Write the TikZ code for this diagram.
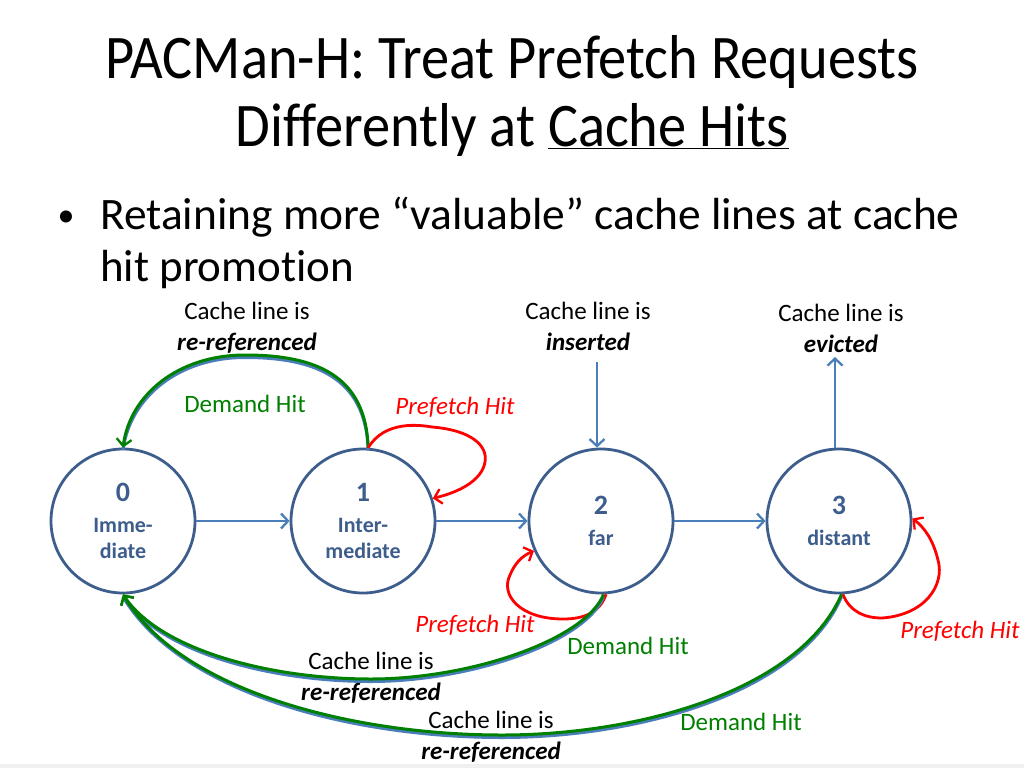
\documentclass[tikz,border=0pt]{standalone}
\usepackage{fontspec}
\setmainfont{Carlito}[Ligatures=NoCommon]
\usetikzlibrary{arrows.meta}
\definecolor{circ}{HTML}{3D5E8C}
\definecolor{arr}{HTML}{4A7EBB}
\definecolor{grn}{HTML}{008000}
\definecolor{rd}{HTML}{FF0000}
\newcommand{\bignum}[1]{{\fontsize{28}{30}\selectfont #1}}
\begin{document}
\begin{tikzpicture}[x=1pt,y=-1pt,
  state/.style={circle,draw=circ,line width=2.8pt,minimum size=144pt,inner sep=0pt,text=circ,font=\bfseries\fontsize{22}{26}\selectfont,align=center},
  lbl/.style={font=\fontsize{25}{31}\selectfont,align=center,inner sep=0pt},
  ilbl/.style={font=\fontsize{25}{31}\selectfont\itshape,align=center,inner sep=0pt},
  tip/.style={-{Straight Barb[length=7pt,width=15pt,line width=2.3pt]}},
  bluearr/.style={draw=arr,line width=2.6pt,tip},
  redarr/.style={draw=rd,line width=2.8pt,tip},
  grnarr/.style={draw=grn,line width=3pt,tip},
  blueunder/.style={draw=arr,line width=3pt,transform canvas={yshift=-2.5pt}},
]
\useasboundingbox (0,0) rectangle (1024,768);
\fill[white] (0,0) rectangle (1024,768);
\fill[gray!12] (0,764) rectangle (1024,768);

% title and bullet
\node[font=\fontsize{62}{68}\selectfont,align=center,inner sep=0pt] (title) at (512,96)
  {\scalebox{0.91}[1]{PACMan-H: Treat Prefetch Requests}\\\scalebox{0.91}[1]{Differently at \underline{Cache Hits}}};
\node[font=\fontsize{34}{40}\selectfont,inner sep=0pt] (bul) at (66,219) {•};
\node[font=\fontsize{45}{52}\selectfont,align=left,anchor=north west,inner sep=0pt] (btext) at (100,197)
  {\scalebox{1.01}[1]{Retaining more “valuable” cache lines at cache}\\hit promotion};

% states
\node[state] (c0) at (123,521) {\bignum{0}\\[5pt]Imme-\\diate};
\node[state] (c1) at (363,521) {\bignum{1}\\[5pt]Inter-\\mediate};
\node[state] (c2) at (601,521) {\bignum{2}\\[5pt]far};
\node[state] (c3) at (839,521) {\bignum{3}\\[5pt]distant};

% labels
\node[lbl] (ltop) at (247,328) {Cache line is\\\textbf{\textit{re-referenced}}};
\node[lbl,text=grn] (dh1) at (245,404) {Demand Hit};
\node[ilbl,text=rd] (ph1) at (455,407) {Prefetch Hit};
\node[lbl] (lins) at (588,326) {Cache line is\\\textbf{\textit{inserted}}};
\node[lbl] (lev) at (841,328) {Cache line is\\\textbf{\textit{evicted}}};
\node[ilbl,text=rd] (ph2) at (475,625) {Prefetch Hit};
\node[lbl,text=grn] (dh2) at (628,646) {Demand Hit};
\node[lbl] (lmid) at (371,678) {Cache line is\\\textbf{\textit{re-referenced}}};
\node[lbl] (lbot) at (491,737) {Cache line is\\\textbf{\textit{re-referenced}}};
\node[lbl,text=grn] (dh3) at (741,722) {Demand Hit};
\node[ilbl,text=rd] (ph3) at (960,631) {Prefetch Hit};

% coordinates for free ends
\coordinate (insTop) at (597,362);
\coordinate (evTop) at (835,357);

% horizontal transitions
\draw[bluearr] (c0) -- (c1);
\draw[bluearr] (c1) -- (c2);
\draw[bluearr] (c2) -- (c3);
\draw[bluearr] (insTop) -- (insTop |- c2.north);
\draw[bluearr] (evTop |- c3.north) -- (evTop);

% top demand hit arc
\draw[blueunder] (c1.86) .. controls (366,375) and (315,355) .. (245,355) .. controls (178,355) and (130,395) .. (c0.north);
\draw[grnarr] (c1.86) .. controls (366,375) and (315,355) .. (245,355) .. controls (178,355) and (130,395) .. (c0.north);

% red loops
\draw[redarr] (c1.86) .. controls (385,420) and (420,425) .. (432,427) .. controls (470,430) and (488,445) .. (485,462) .. controls (482,480) and (460,492) .. (c1.18);
\draw[redarr] (c2.-86) .. controls (600,612) and (585,619) .. (563,619) .. controls (520,619) and (500,595) .. (510,575) .. controls (515,563) and (522,556) .. (c2.204);
\draw[redarr] (c3.-87) .. controls (850,612) and (865,618) .. (882,618) .. controls (925,615) and (945,585) .. (938,560) .. controls (933,540) and (925,528) .. (c3.2);

% bottom demand hit arcs
\draw[blueunder] (c2.-88) .. controls (585,640) and (470,679) .. (371,679) .. controls (270,679) and (160,650) .. (c0.south);
\draw[grnarr] (c2.-88) .. controls (585,640) and (470,679) .. (371,679) .. controls (270,679) and (160,650) .. (c0.south);
\draw[blueunder] (c3.-88) .. controls (800,690) and (640,735) .. (502,735) .. controls (350,735) and (180,690) .. (c0.south);
\draw[grnarr] (c3.-88) .. controls (800,690) and (640,735) .. (502,735) .. controls (350,735) and (180,690) .. (c0.south);
\end{tikzpicture}
\end{document}
